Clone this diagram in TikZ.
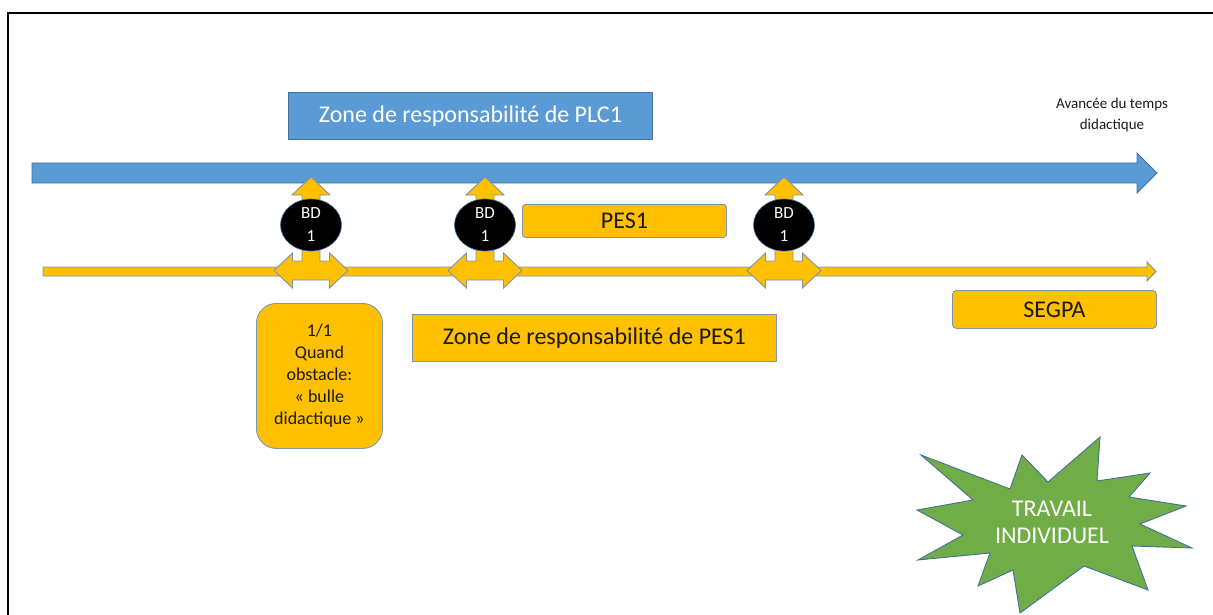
\documentclass[tikz,border=0pt]{standalone}
\usepackage{fontspec}
\setmainfont{Carlito}
\definecolor{bluefill}{HTML}{5B9BD5}
\definecolor{blueedge}{HTML}{41719C}
\definecolor{yelfill}{HTML}{FFC000}
\definecolor{yeledge}{RGB}{125,148,172}
\definecolor{greenfill}{HTML}{70AD47}
\definecolor{txt}{HTML}{1A1A1A}
\tikzset{
  bluebox/.style={draw=blueedge,fill=bluefill,line width=0.9pt,anchor=north west,inner sep=0pt,text=white},
  yelbox/.style={draw=yeledge,fill=yelfill,line width=0.9pt,anchor=north west,inner sep=0pt,text=txt},
  yelshape/.style={draw=yeledge,fill=yelfill,line width=0.9pt,line join=miter},
  blueshape/.style={draw=blueedge,fill=bluefill,line width=0.8pt},
  bdnode/.style={ellipse,fill=black,draw=blueedge,line width=0.6pt,minimum width=61pt,minimum height=52pt,inner sep=0pt,text=white,align=center,font=\fontsize{17}{23}\selectfont},
}
\usetikzlibrary{shapes.geometric}
\newcommand\lruarrow[1]{%
  \begin{scope}[shift={(#1,270.5)}]
    \path[yelshape] (-37,0) -- (-18.5,-17.5) -- (-18.5,-9.5) -- (-9,-9.5) -- (-9,-75.5) -- (-19,-75.5)
      -- (0,-93.5) -- (19,-75.5) -- (9,-75.5) -- (9,-9.5) -- (18.5,-9.5) -- (18.5,-17.5) -- (37,0)
      -- (18.5,17.5) -- (18.5,9.5) -- (-18.5,9.5) -- (-18.5,17.5) -- cycle;
  \end{scope}}
\begin{document}
\begin{tikzpicture}[x=1pt,y=-1pt]
\useasboundingbox (0,0) rectangle (1213,615);
% frame
\draw[line width=1.4pt] (8,615) -- (8,13) -- (1213,13);
% blue time arrow
\path[blueshape] (32,163) -- (1137,163) -- (1137,153) -- (1157,173) -- (1137,193) -- (1137,183) -- (32,183) -- cycle;
\node[bluebox,minimum width=364pt,minimum height=47pt,font=\fontsize{24}{28}\selectfont] (plc) at (288,92) {Zone de responsabilité de PLC1};
\node[text=txt,align=center,font=\fontsize{15}{21}\selectfont] (avance) at (1112,115) {Avancée du temps\\didactique};
% yellow line arrow
\path[yelshape] (43,267) -- (1147,267) -- (1147,262) -- (1156,271.5) -- (1147,281) -- (1147,276) -- (43,276) -- cycle;
% BD markers
\lruarrow{311}
\lruarrow{485}
\lruarrow{784}
\node[bdnode] (bd1) at (311,225) {BD\\1};
\node[bdnode] (bd2) at (485,225) {BD\\1};
\node[bdnode] (bd3) at (784,225) {BD\\1};
% boxes
\node[yelbox,rounded corners=3pt,minimum width=204pt,minimum height=33pt,font=\fontsize{24}{28}\selectfont] (pes) at (522,204) {PES1};
\node[yelbox,rounded corners=4pt,minimum width=204pt,minimum height=38pt,font=\fontsize{24}{28}\selectfont] (segpa) at (952,290) {SEGPA};
\node[yelbox,minimum width=364pt,minimum height=47pt,font=\fontsize{24}{28}\selectfont] (zpes) at (412,314) {Zone de responsabilité de PES1};
\node[yelbox,rounded corners=20pt,minimum width=126pt,minimum height=145pt,align=center,font=\fontsize{18}{22}\selectfont] (bulle) at (256,303) {1/1\\Quand\\obstacle:\\« bulle\\didactique »};
% starburst
\path[draw=blueedge,fill=greenfill,line width=0.9pt,line join=miter]
  (1100,437) -- (1097,481) -- (1150,473) -- (1129,497) -- (1186,506) -- (1140,524) -- (1192,548)
  -- (1132,546) -- (1148,590) -- (1084,566) -- (1020,613) -- (1013,570) -- (978,586) -- (990,553)
  -- (918,560) -- (963,535) -- (917,510) -- (973,500) -- (921,455) -- (1010,489) -- (1022,455)
  -- (1048,482) -- cycle;
\node[text=white,align=center,font=\fontsize{24}{27}\selectfont] (travail) at (1052,522) {TRAVAIL\\INDIVIDUEL};
\end{tikzpicture}
\end{document}
